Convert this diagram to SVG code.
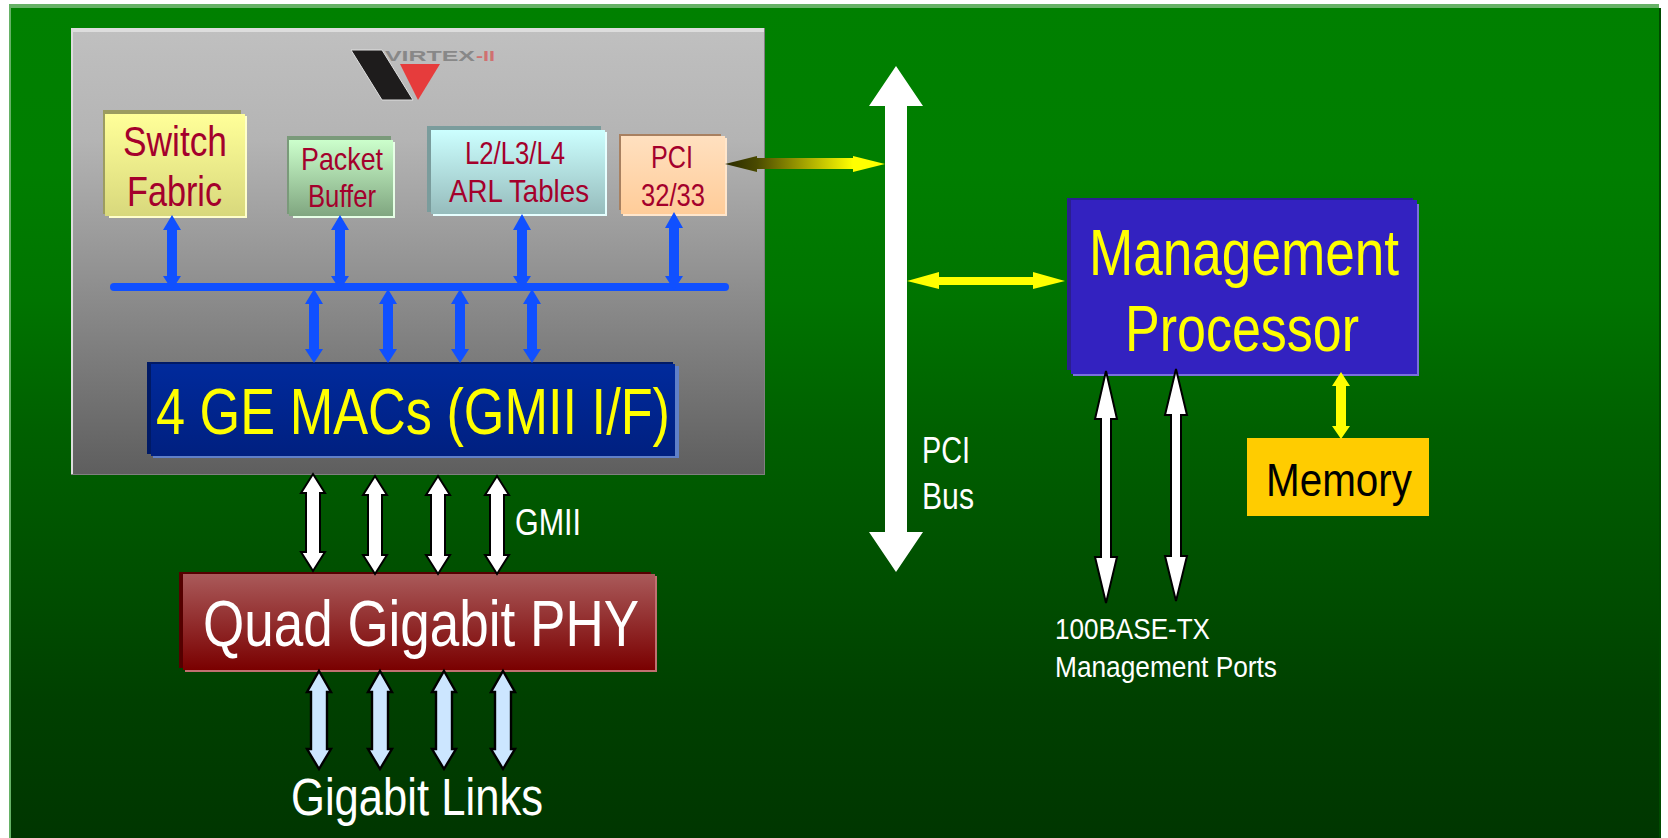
<svg xmlns="http://www.w3.org/2000/svg" width="1668" height="838" viewBox="0 0 1668 838">
<style>
text{font-family:"Liberation Sans Narrow","Liberation Sans",Arial,sans-serif}
.r{fill:#a4002c;font-size:32px}
.y{fill:#ffff00;font-size:64px}
.w{fill:#ffffff}
.blue{fill:#1050ff}
.wa{fill:#ffffff;stroke:#000;stroke-width:2}
.la{fill:#cce6ff;stroke:#000;stroke-width:2.4}
.ya{fill:#ffff00}
.logo{font-family:"Liberation Sans",sans-serif;font-size:15px;font-weight:bold}
</style>
<defs>
<linearGradient id="bg" gradientUnits="userSpaceOnUse" x1="0" y1="4" x2="0" y2="838"><stop offset="0" stop-color="#008000"/><stop offset="0.2" stop-color="#007e00"/><stop offset="0.355" stop-color="#007400"/><stop offset="0.51" stop-color="#006000"/><stop offset="0.74" stop-color="#004a00"/><stop offset="0.835" stop-color="#004000"/><stop offset="1" stop-color="#003600"/></linearGradient>
<linearGradient id="gv" x1="0" y1="0" x2="0" y2="1"><stop offset="0" stop-color="#c0c0c0"/><stop offset="0.25" stop-color="#b4b4b4"/><stop offset="1" stop-color="#5e5e5e"/></linearGradient>
<linearGradient id="g1" x1="0" y1="0" x2="0" y2="1"><stop offset="0" stop-color="#ffff99"/><stop offset="1" stop-color="#d8d87c"/></linearGradient>
<linearGradient id="g2" x1="0" y1="0" x2="0" y2="1"><stop offset="0" stop-color="#ccffcc"/><stop offset="1" stop-color="#80a680"/></linearGradient>
<linearGradient id="g3" x1="0" y1="0" x2="0" y2="1"><stop offset="0" stop-color="#ccffff"/><stop offset="1" stop-color="#96bcbc"/></linearGradient>
<linearGradient id="g4" x1="0" y1="0" x2="0" y2="1"><stop offset="0" stop-color="#ffe0c0"/><stop offset="1" stop-color="#ffcc99"/></linearGradient>
<linearGradient id="g5" x1="0" y1="0" x2="0" y2="1"><stop offset="0" stop-color="#002a9c"/><stop offset="1" stop-color="#002080"/></linearGradient>
<linearGradient id="g6" x1="0" y1="0" x2="0" y2="1"><stop offset="0" stop-color="#aa5a5a"/><stop offset="1" stop-color="#7a0000"/></linearGradient>
<linearGradient id="gp" gradientUnits="userSpaceOnUse" x1="725" y1="0" x2="885" y2="0"><stop offset="0" stop-color="#2a2a00"/><stop offset="0.2" stop-color="#4a4a00"/><stop offset="0.8" stop-color="#ffff00"/></linearGradient>
</defs>
<g id="background">
<rect x="9" y="4" width="1650" height="834" fill="#66b266"/>
<rect x="1657" y="8" width="4" height="830" fill="#004a00"/>
<rect x="11" y="8" width="1648" height="830" fill="url(#bg)"/>
</g>
<g id="virtex">
<rect x="71" y="28" width="694" height="447" fill="url(#gv)"/>
<path d="M71 475V28H764V32H73V475Z" fill="#dddddd"/>
<path d="M764 28h1v447H71v-1H764Z" fill="#808080"/>
<g id="logo">
<polygon points="351,50 382,50 413,100 382,100" fill="#1e1c1c" stroke="#e0e0e0" stroke-width="1"/>
<polygon points="400,64 440,64 418,100" fill="#e63c3c"/>
<text class="logo" x="385" y="61" fill="#888888" textLength="90" lengthAdjust="spacingAndGlyphs">VIRTEX</text>
<text class="logo" x="476" y="61" fill="#d07070" textLength="19" lengthAdjust="spacingAndGlyphs">-II</text>
</g>
</g>
<g id="switch-fabric">
<rect x="103" y="110" width="138" height="104" fill="#9c9c60"/>
<rect x="109" y="116" width="138" height="102" fill="#ffffcc"/>
<rect x="105" y="114" width="140" height="102" fill="url(#g1)"/>
<text class="r" x="123" y="156" style="font-size:42px" textLength="104" lengthAdjust="spacingAndGlyphs">Switch</text>
<text class="r" x="127" y="206" style="font-size:42px" textLength="95" lengthAdjust="spacingAndGlyphs">Fabric</text>
</g>
<g id="packet-buffer">
<rect x="287" y="136" width="104" height="78" fill="#7a9a7a"/>
<rect x="293" y="142" width="102" height="76" fill="#e6ffe6"/>
<rect x="289" y="140" width="104" height="76" fill="url(#g2)"/>
<text class="r" x="301" y="170" textLength="82" lengthAdjust="spacingAndGlyphs">Packet</text>
<text class="r" x="308" y="207" textLength="68" lengthAdjust="spacingAndGlyphs">Buffer</text>
</g>
<g id="arl-tables">
<rect x="427" y="126" width="174" height="86" fill="#7a9c9c"/>
<rect x="433" y="132" width="174" height="84" fill="#e6ffff"/>
<rect x="431" y="130" width="174" height="84" fill="url(#g3)"/>
<text class="r" x="465" y="164" textLength="100" lengthAdjust="spacingAndGlyphs">L2/L3/L4</text>
<text class="r" x="449" y="202" textLength="140" lengthAdjust="spacingAndGlyphs">ARL Tables</text>
</g>
<g id="pci-core">
<rect x="619" y="134" width="102" height="76" fill="#a88060"/>
<rect x="623" y="138" width="104" height="78" fill="#ffe6cc"/>
<rect x="621" y="136" width="104" height="78" fill="url(#g4)"/>
<text class="r" x="651" y="168" textLength="42" lengthAdjust="spacingAndGlyphs">PCI</text>
<text class="r" x="641" y="206" textLength="64" lengthAdjust="spacingAndGlyphs">32/33</text>
</g>
<g id="ge-macs">
<rect x="147" y="362" width="526" height="92" fill="#001a66"/>
<rect x="153" y="366" width="526" height="92" fill="#6080c8"/>
<rect x="151" y="364" width="524" height="92" fill="url(#g5)"/>
<text class="y" x="156" y="434" textLength="514" lengthAdjust="spacingAndGlyphs">4 GE MACs (GMII I/F)</text>
</g>
<g id="quad-phy">
<rect x="179" y="572" width="472" height="96" fill="#550000"/>
<rect x="185" y="576" width="472" height="96" fill="#c07070"/>
<rect x="183" y="574" width="472" height="96" fill="url(#g6)"/>
<text class="w" x="203" y="646" style="font-size:64px" textLength="436" lengthAdjust="spacingAndGlyphs">Quad Gigabit PHY</text>
</g>
<g id="management-processor">
<rect x="1067" y="198" width="346" height="172" fill="#2a1f8f"/>
<rect x="1073" y="204" width="346" height="172" fill="#7a70dd"/>
<rect x="1071" y="200" width="346" height="174" fill="#3322c0"/>
<text class="y" x="1089" y="275" textLength="310" lengthAdjust="spacingAndGlyphs">Management</text>
<text class="y" x="1125" y="351" textLength="234" lengthAdjust="spacingAndGlyphs">Processor</text>
</g>
<g id="memory">
<rect x="1247" y="438" width="182" height="78" fill="#ffcc00"/>
<text x="1266" y="496" font-size="47" fill="#000" textLength="146" lengthAdjust="spacingAndGlyphs">Memory</text>
</g>
<g id="connectors">
<rect class="blue" x="110" y="283" width="619" height="8" rx="4"/>
<polygon class="blue" points="172,215 181,230 177,230 177,276 181,276 172,290 163,276 167,276 167,230 163,230"/>
<polygon class="blue" points="340,215 349,230 345,230 345,276 349,276 340,290 331,276 335,276 335,230 331,230"/>
<polygon class="blue" points="522,214 531,230 527,230 527,276 531,276 522,290 513,276 517,276 517,230 513,230"/>
<polygon class="blue" points="674,212 683,228 679,228 679,276 683,276 674,290 665,276 669,276 669,228 665,228"/>
<polygon class="blue" points="314,289 323,304 319,304 319,349 323,349 314,363 305,349 309,349 309,304 305,304"/>
<polygon class="blue" points="388,289 397,304 393,304 393,349 397,349 388,363 379,349 383,349 383,304 379,304"/>
<polygon class="blue" points="460,289 469,304 465,304 465,349 469,349 460,363 451,349 455,349 455,304 451,304"/>
<polygon class="blue" points="532,289 541,304 537,304 537,349 541,349 532,363 523,349 527,349 527,304 523,304"/>
<polygon class="wa" points="313,474 325,493 320,493 320,552 325,552 313,571 301,552 306,552 306,493 301,493"/>
<polygon class="wa" points="375,476 387,495 382,495 382,555 387,555 375,574 363,555 368,555 368,495 363,495"/>
<polygon class="wa" points="438,476 450,495 445,495 445,555 450,555 438,574 426,555 431,555 431,495 426,495"/>
<polygon class="wa" points="497,476 509,495 504,495 504,555 509,555 497,574 485,555 490,555 490,495 485,495"/>
<polygon class="la" points="319,671 331,692 327,692 327,749 331,749 319,769 307,749 311,749 311,692 307,692"/>
<polygon class="la" points="380,671 392,692 388,692 388,749 392,749 380,769 368,749 372,749 372,692 368,692"/>
<polygon class="la" points="444,671 456,692 452,692 452,749 456,749 444,769 432,749 436,749 436,692 432,692"/>
<polygon class="la" points="503,671 515,692 511,692 511,749 515,749 503,769 491,749 495,749 495,692 491,692"/>
<polygon class="wa" points="1106,371 1117,419 1111,419 1111,557 1117,557 1106,603 1095,557 1101,557 1101,419 1095,419"/>
<polygon class="wa" points="1176,369 1187,415 1181,415 1181,556 1187,556 1176,601 1165,556 1171,556 1171,415 1165,415"/>
<polygon fill="#ffffff" points="896,66 923,106 907,106 907,532 923,532 896,572 869,532 885,532 885,106 869,106"/>
<polygon fill="url(#gp)" points="725,164 757,156 757,158 853,158 853,156 885,164 853,172 853,169 757,169 757,172"/>
<polygon class="ya" points="907,281 939,272 939,277 1033,277 1033,272 1065,281 1033,289 1033,285 939,285 939,289"/>
<polygon class="ya" points="1341,372 1350,386 1346,386 1346,426 1350,426 1341,439 1332,426 1336,426 1336,386 1332,386"/>
</g>
<g id="labels">
<text class="w" x="515" y="535" style="font-size:36px" textLength="66" lengthAdjust="spacingAndGlyphs">GMII</text>
<text class="w" x="291" y="815" style="font-size:51px" textLength="252" lengthAdjust="spacingAndGlyphs">Gigabit Links</text>
<text class="w" x="922" y="463" style="font-size:36px" textLength="48" lengthAdjust="spacingAndGlyphs">PCI</text>
<text class="w" x="922" y="509" style="font-size:36px" textLength="52" lengthAdjust="spacingAndGlyphs">Bus</text>
<text class="w" x="1055" y="639" style="font-size:30px" textLength="155" lengthAdjust="spacingAndGlyphs">100BASE-TX</text>
<text class="w" x="1055" y="677" style="font-size:30px" textLength="222" lengthAdjust="spacingAndGlyphs">Management Ports</text>
</g>
</svg>
